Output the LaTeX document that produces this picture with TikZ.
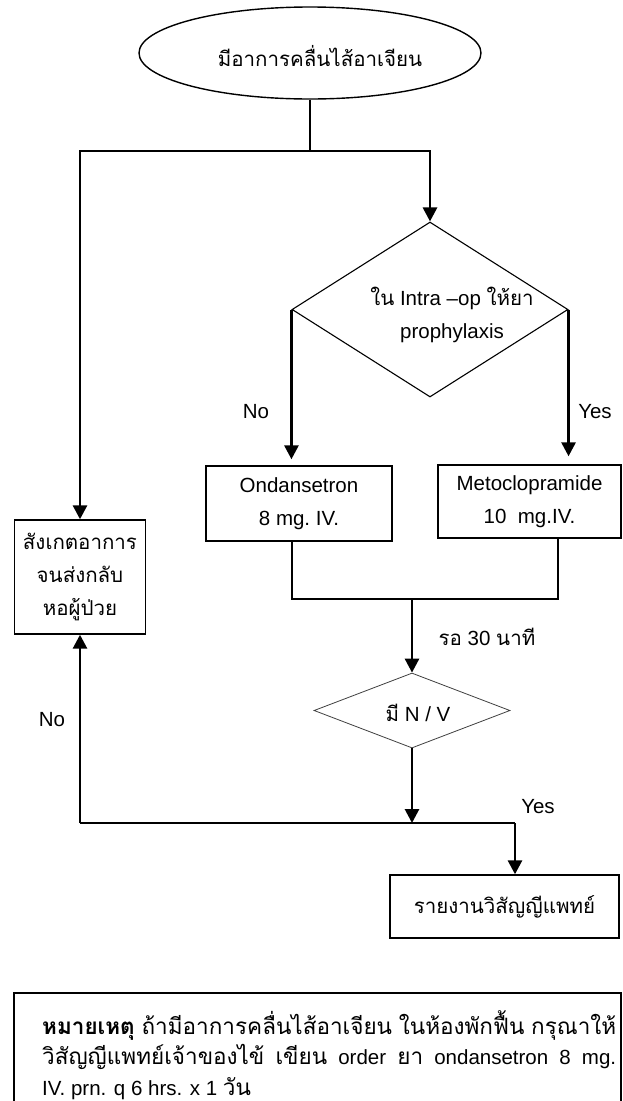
\documentclass[tikz,border=0pt]{standalone}
\usepackage{fontspec}
\setmainfont{Liberation Sans}
\newfontfamily\thaifont[Script=Thai]{Loma}
\newcommand{\tf}[1]{{\thaifont #1}}
\newcommand{\tfn}[1]{{\fontsize{22.5}{30}\thaifont #1}}
\usetikzlibrary{shapes.geometric,arrows.meta,calc}
\tikzset{
  box/.style={draw, line width=1.4pt, inner sep=0pt, align=center},
  conn/.style={line width=2.8pt},
  arr/.style={conn, -{Triangle[length=14pt,width=14pt]}},
  latin/.style={font=\fontsize{20.5}{33}\selectfont},
  thai/.style={font=\fontsize{20.5}{33}\thaifont},
}
\begin{document}
\begin{tikzpicture}[x=1pt,y=-1pt]
\useasboundingbox (0,0) rectangle (623,1101);
\clip (0,0) rectangle (623,1101);
\fill[white] (0,0) rectangle (623,1101);

% nodes
\node[draw, ellipse, line width=1.4pt, minimum width=342pt, minimum height=92pt, inner sep=0pt] (start) at (310,53) {};
\node[thai] (starttxt) at (320,56) {มีอาการคลื่นไส้อาเจียน};

\node[draw, diamond, line width=1.1pt, minimum width=276pt, minimum height=175pt, inner sep=0pt] (d1) at (430,309.5) {};
\node[latin, align=center] (d1txt) at (452,315) {\tf{ใน} Intra –op \tf{ให้ยา}\\prophylaxis};

\node[box, latin, minimum width=186pt, minimum height=75pt] (ond) at (299,503.5) {Ondansetron\\8 mg.\ IV.};
\node[box, latin, minimum width=183pt, minimum height=73pt] (meto) at (529.5,501.5) {Metoclopramide\\10\ \ mg.IV.};
\node[box, thai, minimum width=131pt, minimum height=114pt] (obs) at (80,577) {สังเกตอาการ\\จนส่งกลับ\\หอผู้ป่วย};

\node[draw=black!75, diamond, line width=0.8pt, minimum width=196pt, minimum height=75pt, inner sep=0pt] (d2) at (412,710.5) {};
\node[latin] (d2txt) at (418,713) {\tf{มี} N / V};

\node[box, thai, minimum width=229pt, minimum height=63pt] (report) at (504.5,906.5) {รายงานวิสัญญีแพทย์};

% labels
\node[latin] (lno1) at (256,412) {No};
\node[latin] (lyes1) at (595,412) {Yes};
\node[latin] (lwait) at (487,637) {\tf{รอ} 30 \tf{นาที}};
\node[latin] (lno2) at (52,720) {No};
\node[latin] (lyes2) at (538,807) {Yes};

% coordinates
\coordinate (split) at (310,151);
\coordinate (splitL) at (80,151);
\coordinate (splitR) at (430,151);
\coordinate (joinL) at (292,599);
\coordinate (joinR) at (558,599);
\coordinate (joinM) at (412,599);
\coordinate (barL) at (80,823);
\coordinate (barM) at (412,823);
\coordinate (barR) at (515,823);

% connectors
\draw[conn] (start.south) -- (split);
\draw[conn, line cap=rect] (splitL) -- (splitR);
\draw[arr] (splitL) -- (obs.north);
\draw[arr] (splitR) -- (d1.north);
\draw[arr] (d1.west) -- ($(d1.west |- ond.north)+(0,-6)$);
\draw[arr] (d1.east) -- ($(d1.east |- meto.north)+(0,-8)$);
\draw[line width=2pt] (ond.south -| joinL) -- (joinL) -- (joinR) -- (meto.south -| joinR);
\draw[arr] (joinM) -- (d2.north);
\draw[arr] (d2.south) -- (barM);
\draw[conn] (barL) -- (barR);
\draw[arr] (barL) -- (obs.south);
\draw[arr] (barR) -- (barR |- report.north);

% note
\draw[line width=1.4pt] (14,1110) -- (14,993) -- (621,993) -- (621,1110);
\node[anchor=north west, inner sep=0pt, align=left, font=\fontsize{20.5}{30.5}\selectfont] (note) at (42,1010) {%
\hbox to 574pt{\tfn{\bfseries หมายเหตุ}\hfill\tfn{ถ้ามีอาการคลื่นไส้อาเจียน}\hfill\tfn{ในห้องพักฟื้น}\hfill\tfn{กรุณาให้}}\\
\hbox to 574pt{\tfn{วิสัญญีแพทย์เจ้าของไข้}\hfill\tfn{เขียน}\hfill order\hfill\tfn{ยา}\hfill ondansetron\hfill 8\hfill mg.}\\
IV. prn. q 6 hrs. x 1 \tfn{วัน}};
\end{tikzpicture}
\end{document}
